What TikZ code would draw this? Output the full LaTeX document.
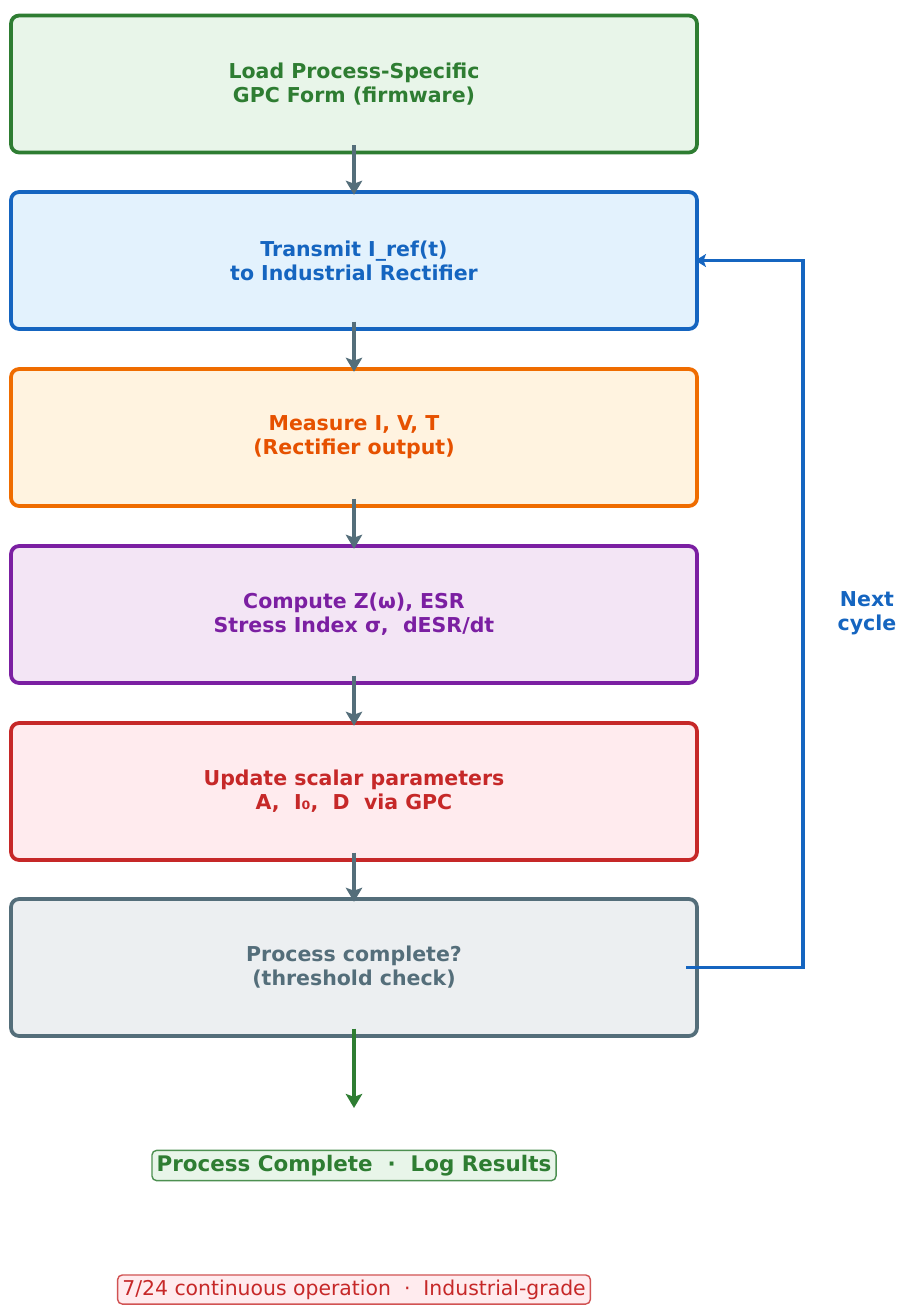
\documentclass[tikz,border=0pt]{standalone}
\usepackage{fontspec}
\setmainfont{DejaVu Sans}
\usetikzlibrary{arrows.meta}
\definecolor{grnline}{HTML}{2E7D32}\definecolor{grnfill}{HTML}{E8F5E9}
\definecolor{bluline}{HTML}{1565C0}\definecolor{blufill}{HTML}{E3F2FD}
\definecolor{orgline}{HTML}{EF6C00}\definecolor{orgtext}{HTML}{E65100}\definecolor{orgfill}{HTML}{FFF3E0}
\definecolor{purline}{HTML}{7B1FA2}\definecolor{purfill}{HTML}{F3E5F5}
\definecolor{redline}{HTML}{C62828}\definecolor{redfill}{HTML}{FFEBEE}
\definecolor{gryline}{HTML}{546E7A}\definecolor{gryfill}{HTML}{ECEFF1}

\begin{document}
\begin{tikzpicture}[x=0.03cm,y=-0.03cm,
  stage/.style={draw=#1,rounded corners=7pt,line width=3.2pt,minimum width=20.58cm,minimum height=4.11cm,
    align=center,font=\fontsize{17.5}{20.5}\selectfont\bfseries},
  flow/.style={gryline,line width=2.8pt,-{Stealth[length=12pt,width=14pt,inset=2.5pt]}},
  loopback/.style={bluline,line width=3pt,-{Stealth[length=9pt,width=11pt,inset=2pt]}},
  tag/.style={draw=#1,rounded corners=4pt,line width=1.2pt,inner sep=4pt}]
\useasboundingbox (0,0) rectangle (898,1305);
\node[stage=grnline,fill=grnfill,text=grnline] (load) at (354,84) {Load Process-Specific\\GPC Form (firmware)};
\node[stage=bluline,fill=blufill,text=bluline] (send) at (354,260.5) {Transmit I\_ref(t)\\to Industrial Rectifier};
\node[stage=orgline,fill=orgfill,text=orgtext] (meas) at (354,437.5) {Measure I, V, T\\(Rectifier output)};
\node[stage=purline,fill=purfill,text=purline] (comp) at (354,614.5) {Compute Z(ω), ESR\\Stress Index σ,\ \ dESR/dt};
\node[stage=redline,fill=redfill,text=redline] (upd) at (354,791.5) {Update scalar parameters\\A,\ \ I₀,\ \ D\ \ via GPC};
\node[stage=gryline,fill=gryfill,text=gryline] (check) at (354,967.5) {Process complete?\\(threshold check)};
\draw[flow] ([yshift=8pt]load.south) -- ([yshift=-4pt]send.north);
\draw[flow] ([yshift=8pt]send.south) -- ([yshift=-4pt]meas.north);
\draw[flow] ([yshift=8pt]meas.south) -- ([yshift=-4pt]comp.north);
\draw[flow] ([yshift=8pt]comp.south) -- ([yshift=-4pt]upd.north);
\draw[flow] ([yshift=8pt]upd.south) -- ([yshift=-4pt]check.north);
\coordinate (turnlo) at (803,967.5);
\coordinate (turnhi) at (803,260.5);
\draw[loopback] ([xshift=-11pt]check.east) -- (turnlo) -- (turnhi) -- ([xshift=-3pt]send.east);
\node[bluline,align=center,font=\fontsize{17.5}{20.5}\selectfont\bfseries] (nextc) at (867,613) {Next\\cycle};
\coordinate (endtip) at (354,1108);
\draw[grnline,line width=2.8pt,-{Stealth[length=12pt,width=14pt,inset=2.5pt]}] ([yshift=8pt]check.south) -- (endtip);
\node[tag=grnline!85,fill=grnfill,text=grnline,font=\fontsize{18.3}{21}\selectfont\bfseries] (done) at (354,1165.5) {Process Complete\ \ ·\ \ Log Results};
\node[tag=redline!80,fill=redfill,text=redline,font=\fontsize{17.4}{20}\selectfont] (note) at (354,1289.5) {7/24 continuous operation\ \ ·\ \ Industrial-grade};
\end{tikzpicture}
\end{document}
